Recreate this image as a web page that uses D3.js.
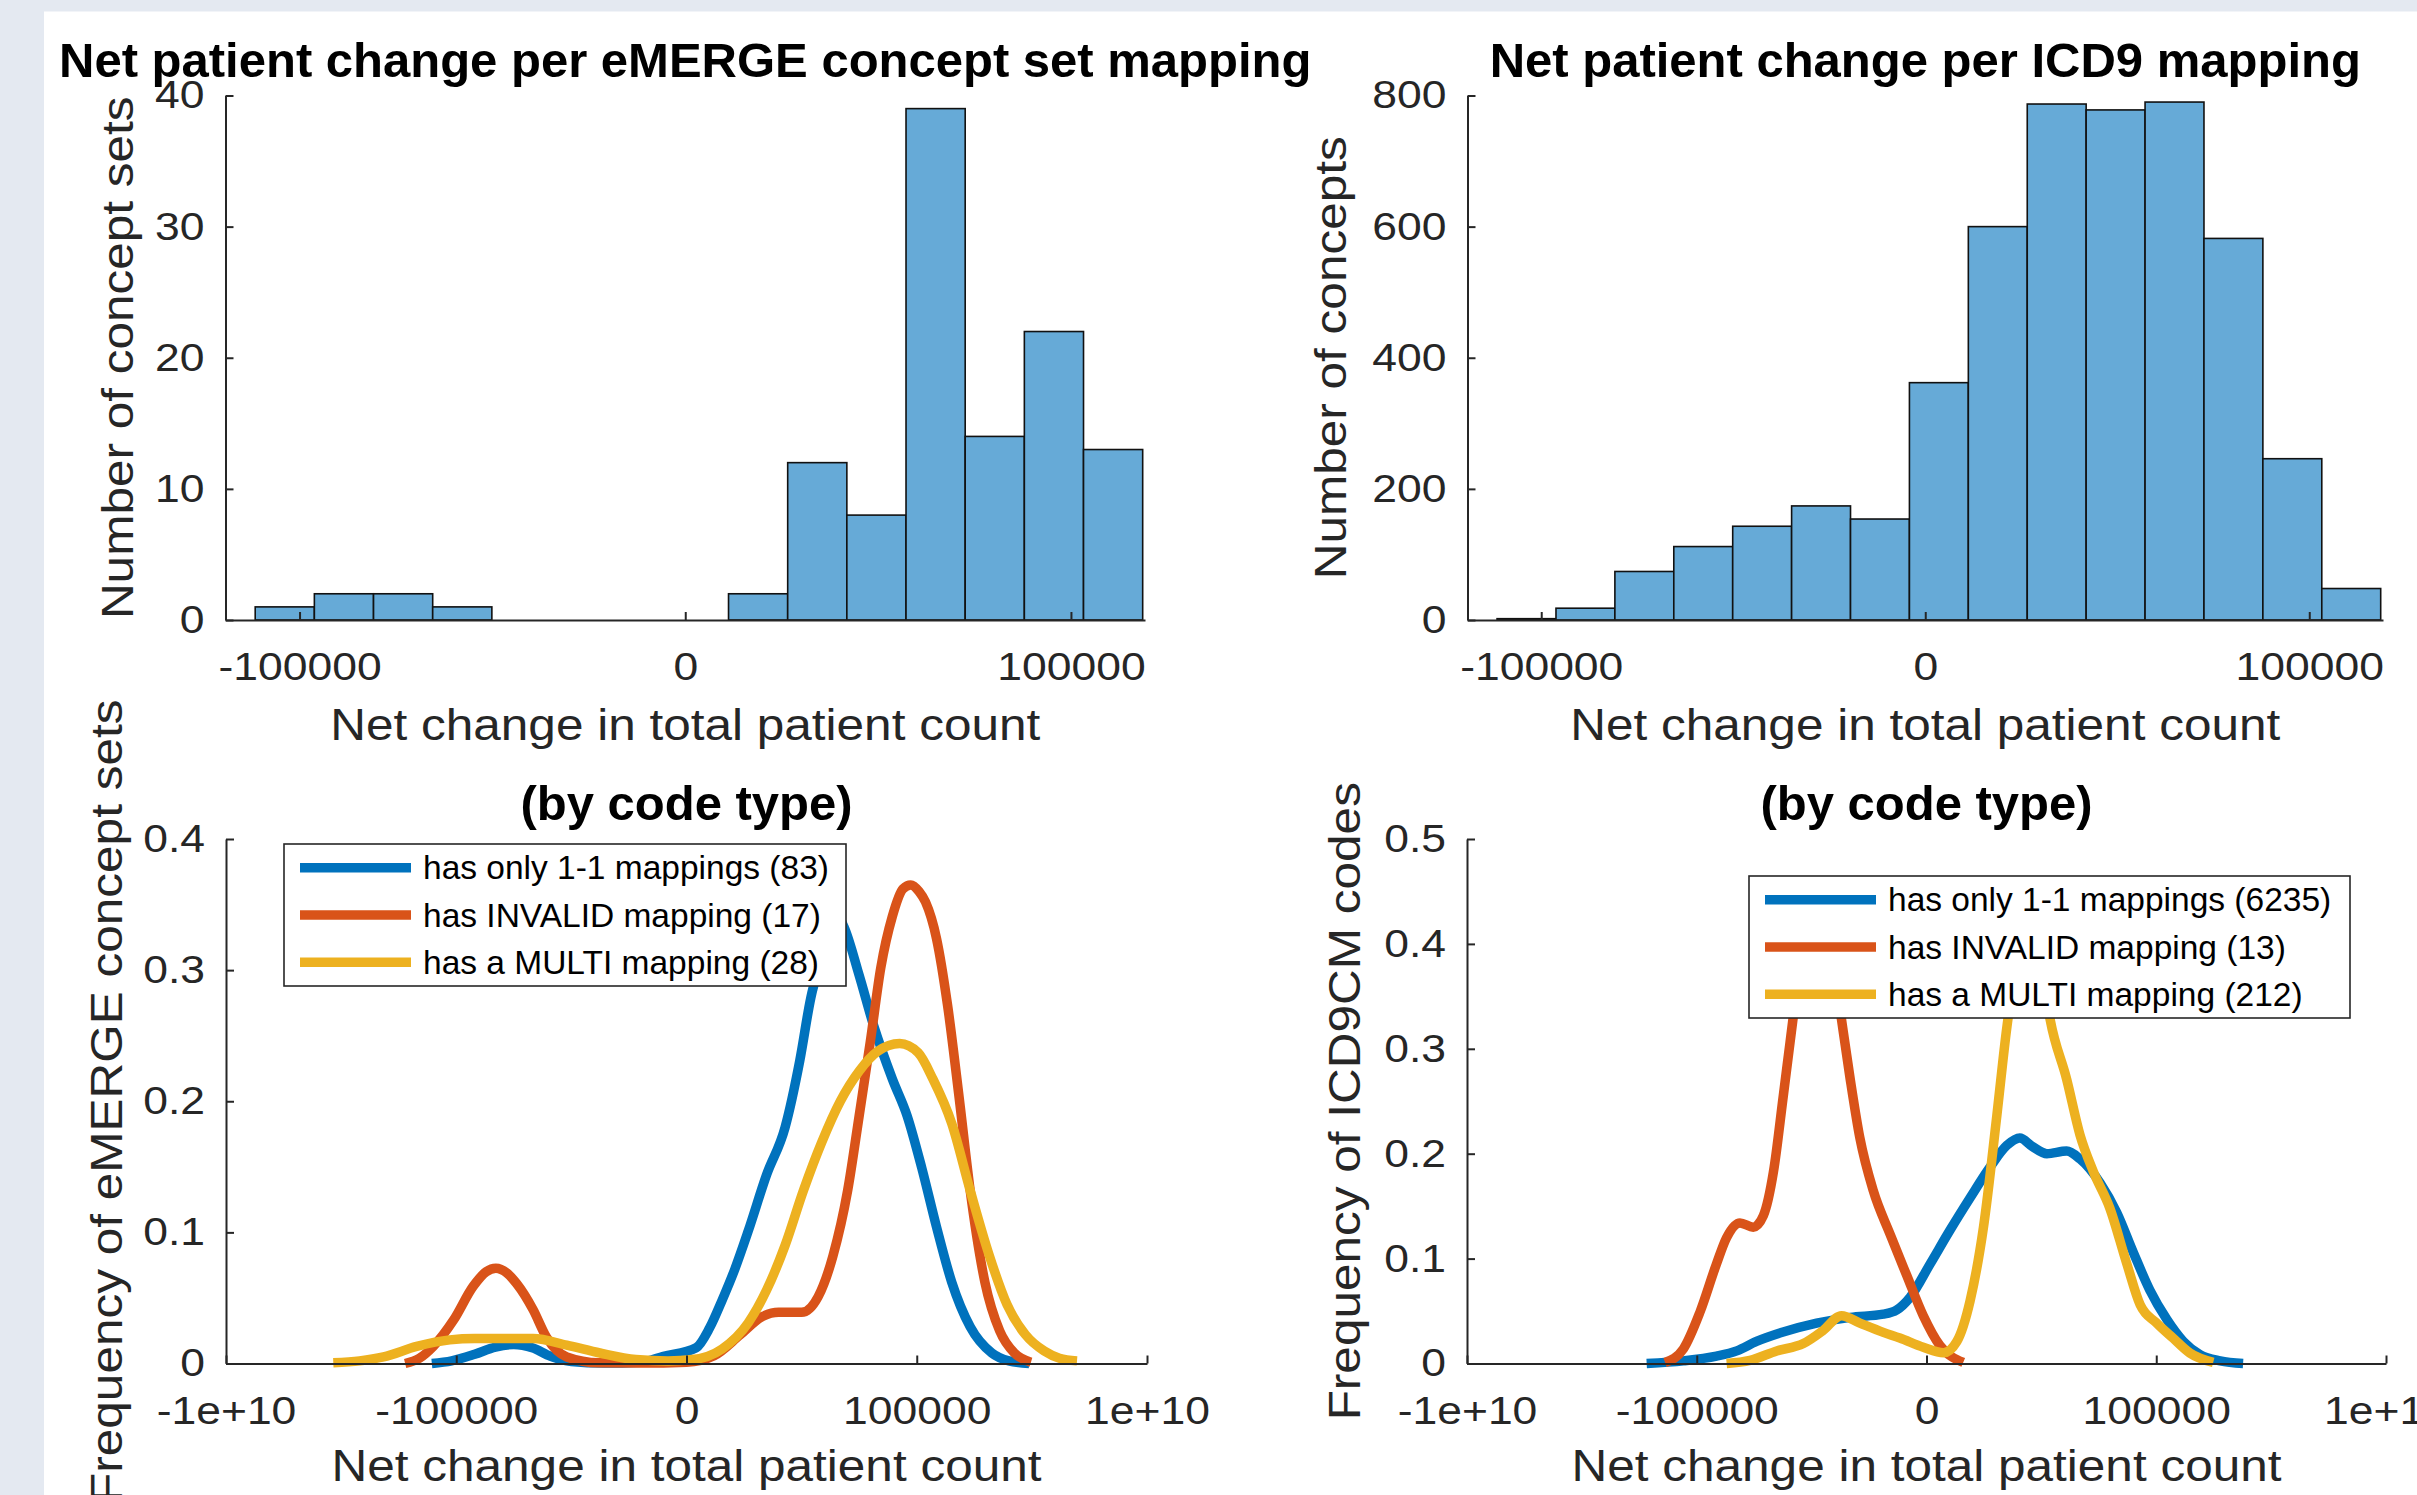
<!DOCTYPE html>
<html>
<head>
<meta charset="utf-8">
<script src="https://cdn.jsdelivr.net/npm/d3@7"></script>
<style>
  html, body { margin: 0; padding: 0; background: #e4e9f1; }
  svg { display: block; }
  text { font-family: "Liberation Sans", Arial, Helvetica, sans-serif; }
</style>
</head>
<body>
<svg id="fig" width="2417" height="1495"></svg>
<script>
// x values are signed log10 of the net change (so 5 -> 100000, 10 -> 1e+10)
const binEdges = [-5.575, -4.808, -4.041, -3.274, -2.507, -1.74, -0.973, -0.206,
  0.561, 1.328, 2.095, 2.862, 3.629, 4.396, 5.163, 5.93];
const emergeCounts = [1, 2, 2, 1, 0, 0, 0, 0, 2, 12, 8, 39, 14, 22, 13];
const icd9Counts = [2, 18, 74, 112, 143, 174, 154, 362, 600, 787, 778, 790, 582, 246, 48];

const histTickValues = [-5, 0, 5];
const histTickLabels = ['-100000', '0', '100000'];
const densTickValues = [-10, -5, 0, 5, 10];
const densTickLabels = ['-1e+10', '-100000', '0', '100000', '1e+10'];

const seriesNames = ['has only 1-1 mappings', 'has INVALID mapping', 'has a MULTI mapping'];
const emergeN = [83, 17, 28];
const icd9N = [6235, 13, 212];
const seriesColors = ['#0072BD', '#D95319', '#EDB120'];

// density curves, [x, frequency]
const emergeOneToOne = [[-5.53, 0], [-5.1, 0.002], [-4.6, 0.007], [-4.15, 0.0125], [-3.75, 0.0145],
  [-3.35, 0.012], [-2.95, 0.0055], [-2.5, 0.0015], [-1.8, 0.0003], [-1.0, 0.001], [-0.5, 0.0054],
  [0.21, 0.012], [0.5, 0.027], [0.77, 0.048], [1.05, 0.072], [1.34, 0.101], [1.74, 0.144],
  [2.14, 0.18], [2.46, 0.231], [2.7, 0.279], [2.94, 0.31], [3.2, 0.345], [3.42, 0.333],
  [3.75, 0.296], [4.07, 0.257], [4.47, 0.217], [4.79, 0.189], [5.11, 0.149], [5.43, 0.104],
  [5.76, 0.062], [6.16, 0.028], [6.63, 0.008], [7.0, 0.002], [7.44, 0]];
const emergeInvalid = [[-6.11, 0], [-5.8, 0.004], [-5.5, 0.013], [-5.06, 0.033], [-4.63, 0.059],
  [-4.35, 0.07], [-4.14, 0.0726], [-3.9, 0.069], [-3.69, 0.061], [-3.33, 0.041], [-3.04, 0.02],
  [-2.6, 0.005], [-1.9, 0.0005], [-1.0, 0.0003], [0, 0.001], [0.6, 0.006], [1.17, 0.022],
  [1.66, 0.036], [2.0, 0.039], [2.5, 0.039], [2.86, 0.051], [3.18, 0.082], [3.5, 0.132],
  [3.75, 0.189], [3.99, 0.245], [4.22, 0.302], [4.47, 0.341], [4.7, 0.362], [4.87, 0.365],
  [5.05, 0.36], [5.19, 0.352], [5.43, 0.324], [5.67, 0.273], [5.92, 0.203], [6.16, 0.132],
  [6.48, 0.062], [6.8, 0.025], [7.12, 0.008], [7.48, 0.001]];
const emergeMulti = [[-7.67, 0.0006], [-7.1, 0.002], [-6.58, 0.005], [-5.86, 0.013], [-5.14, 0.018],
  [-4.6, 0.019], [-4.05, 0.019], [-3.33, 0.019], [-2.6, 0.014], [-1.88, 0.008], [-1.1, 0.003],
  [-0.4, 0.002], [0.13, 0.003], [0.77, 0.011], [1.34, 0.031], [1.74, 0.056], [2.14, 0.09],
  [2.54, 0.132], [2.94, 0.169], [3.34, 0.2], [3.75, 0.223], [4.15, 0.238], [4.63, 0.244],
  [5.03, 0.237], [5.35, 0.217], [5.76, 0.183], [6.16, 0.132], [6.56, 0.084], [6.96, 0.045],
  [7.36, 0.022], [7.77, 0.0095], [8.1, 0.004], [8.48, 0.002]];

const icd9OneToOne = [[-6.09, 0], [-5.29, 0.0025], [-4.57, 0.007], [-4.13, 0.012], [-3.7, 0.021],
  [-3.12, 0.03], [-2.39, 0.0385], [-1.66, 0.044], [-0.94, 0.047], [-0.65, 0.051], [-0.36, 0.063],
  [0.08, 0.095], [0.51, 0.127], [0.95, 0.158], [1.38, 0.187], [1.75, 0.208], [2.03, 0.215],
  [2.3, 0.207], [2.62, 0.2], [3.05, 0.2025], [3.34, 0.195], [3.78, 0.172], [4.14, 0.144],
  [4.5, 0.106], [4.86, 0.07], [5.23, 0.042], [5.59, 0.021], [5.95, 0.0085], [6.39, 0.0025], [6.89, 0]];
const icd9Invalid = [[-5.69, 0.001], [-5.29, 0.014], [-4.93, 0.049], [-4.57, 0.095], [-4.35, 0.12],
  [-4.06, 0.134], [-3.77, 0.13], [-3.55, 0.141], [-3.33, 0.183], [-3.12, 0.254], [-2.97, 0.306],
  [-2.75, 0.38], [-2.4, 0.46], [-2.05, 0.39], [-1.85, 0.328], [-1.66, 0.271], [-1.45, 0.215],
  [-1.16, 0.165], [-0.79, 0.123], [-0.43, 0.084], [-0.07, 0.0456], [0.29, 0.0173], [0.8, 0.001]];
const icd9Multi = [[-4.35, 0], [-3.84, 0.003], [-3.26, 0.012], [-2.68, 0.019], [-2.25, 0.0315],
  [-1.85, 0.0456], [-1.45, 0.0385], [-0.94, 0.0297], [-0.58, 0.0243], [-0.07, 0.0155], [0.37, 0.0103],
  [0.66, 0.021], [0.95, 0.06], [1.24, 0.13], [1.53, 0.236], [1.75, 0.321], [2.0, 0.39], [2.25, 0.41],
  [2.5, 0.38], [2.69, 0.328], [3.05, 0.271], [3.34, 0.218], [3.63, 0.183], [3.99, 0.148],
  [4.36, 0.095], [4.65, 0.056], [5.01, 0.0385], [5.37, 0.024], [5.73, 0.01], [6.24, 0.001]];

const AXIS_COLOR = '#262626';
const TICK_FONT = 39;
const TICK_STRETCH = 1.14;
const LABEL_FONT = 45;
const LABEL_STRETCH = 1.1;
const TITLE_FONT = 49;
const LEGEND_FONT = 33.5;

const svg = d3.select('#fig');

// the original glyphs are a bit wider than Liberation Sans: widen along the baseline
function stretch(sel, s) {
  sel.each(function () {
    const len = this.getComputedTextLength();
    d3.select(this)
      .attr('textLength', len * s)
      .attr('lengthAdjust', 'spacingAndGlyphs');
  });
}

// white figure area (the screenshot shows a strip of the window round it)
svg.append('rect')
  .attr('x', 44).attr('y', 11.5)
  .attr('width', 2417 - 44).attr('height', 1495 - 11.5)
  .attr('fill', '#ffffff');

// draws one MATLAB-like axes: ticks pointing inward, no box
function drawAxes(box, x, y, xTicks, xLabels, yTicks, yFormat, opts) {
  const g = svg.append('g');

  const xAxis = d3.axisBottom(x)
    .tickValues(xTicks)
    .tickFormat((d, i) => xLabels[i])
    .tickSizeInner(-8)
    .tickSizeOuter(0)
    .tickPadding(60 - 0.71 * TICK_FONT);
  const gx = g.append('g')
    .attr('transform', 'translate(0,' + box.bottom + ')')
    .call(xAxis);

  const yAxis = d3.axisLeft(y)
    .tickValues(yTicks)
    .tickFormat(yFormat)
    .tickSizeInner(-8)
    .tickSizeOuter(0)
    .tickPadding(21);
  const gy = g.append('g')
    .attr('transform', 'translate(' + box.left + ',0)')
    .call(yAxis);

  [gx, gy].forEach(function (a) {
    a.select('.domain').attr('stroke', AXIS_COLOR).attr('stroke-width', 2);
    a.selectAll('.tick line').attr('stroke', AXIS_COLOR).attr('stroke-width', 2);
    a.selectAll('.tick text')
      .attr('fill', AXIS_COLOR)
      .style('font-size', TICK_FONT + 'px')
      .style('font-family', '"Liberation Sans", Arial, sans-serif')
      .call(stretch, TICK_STRETCH);
  });

  const cx = (box.left + box.right) / 2;
  const cy = (box.top + box.bottom) / 2;

  g.append('text')
    .attr('x', cx).attr('y', box.top - 19)
    .attr('text-anchor', 'middle')
    .attr('fill', '#000')
    .style('font-size', TITLE_FONT + 'px')
    .style('font-weight', 'bold')
    .text(opts.title);

  g.append('text')
    .attr('x', cx).attr('y', opts.xLabelY)
    .attr('text-anchor', 'middle')
    .attr('fill', AXIS_COLOR)
    .style('font-size', LABEL_FONT + 'px')
    .text('Net change in total patient count')
    .call(stretch, LABEL_STRETCH);

  g.append('text')
    .attr('transform', 'translate(' + opts.yLabelX + ',' + cy + ') rotate(-90)')
    .attr('text-anchor', 'middle')
    .attr('fill', AXIS_COLOR)
    .style('font-size', LABEL_FONT + 'px')
    .text(opts.yLabel)
    .call(stretch, LABEL_STRETCH);
}

function drawHistogram(box, counts, yMax, yTicks, opts) {
  const x = d3.scaleLinear().domain([-5.96, 5.96]).range([box.left, box.right]);
  const y = d3.scaleLinear().domain([0, yMax]).range([box.bottom, box.top]);

  const bins = counts.map((c, i) => ({x0: binEdges[i], x1: binEdges[i + 1], count: c}));

  svg.append('g').selectAll('rect')
    .data(bins.filter(d => d.count > 0))
    .enter().append('rect')
    .attr('x', d => x(d.x0))
    .attr('y', d => y(d.count))
    .attr('width', d => x(d.x1) - x(d.x0))
    .attr('height', d => y(0) - y(d.count))
    .attr('fill', '#66AAD7')
    .attr('stroke', '#111')
    .attr('stroke-width', 1.6);

  drawAxes(box, x, y, histTickValues, histTickLabels, yTicks, d3.format('d'), opts);
}

function drawDensity(box, curves, counts, yMax, yTicks, legendBox, opts) {
  const x = d3.scaleLinear().domain([-10, 10]).range([box.left, box.right]);
  const y = d3.scaleLinear().domain([0, yMax]).range([box.bottom, box.top]);

  const line = d3.line()
    .x(d => x(d[0]))
    .y(d => y(d[1]))
    .curve(d3.curveMonotoneX);

  svg.append('g').selectAll('path')
    .data(curves)
    .enter().append('path')
    .attr('d', line)
    .attr('fill', 'none')
    .attr('stroke', (d, i) => seriesColors[i])
    .attr('stroke-width', 9.5)
    .attr('stroke-linejoin', 'round')
    .attr('stroke-linecap', 'butt');

  drawAxes(box, x, y, densTickValues, densTickLabels, yTicks, d3.format('.1~f'), opts);

  // legend
  const lg = svg.append('g');
  lg.append('rect')
    .attr('x', legendBox.x).attr('y', legendBox.y)
    .attr('width', legendBox.w).attr('height', legendBox.h)
    .attr('fill', '#fff')
    .attr('stroke', AXIS_COLOR)
    .attr('stroke-width', 1.6);
  const rowGap = legendBox.h / 3;
  seriesNames.forEach(function (name, i) {
    const ry = legendBox.y + rowGap * (i + 0.5);
    lg.append('line')
      .attr('x1', legendBox.x + 16).attr('x2', legendBox.x + 127)
      .attr('y1', ry).attr('y2', ry)
      .attr('stroke', seriesColors[i])
      .attr('stroke-width', 9.5);
    lg.append('text')
      .attr('x', legendBox.x + 139).attr('y', ry)
      .attr('dy', '0.35em')
      .attr('fill', '#000')
      .style('font-size', LEGEND_FONT + 'px')
      .text(name + ' (' + counts[i] + ')');
  });
}

drawHistogram({left: 225.5, right: 1145, top: 95.5, bottom: 620}, emergeCounts, 40, [0, 10, 20, 30, 40], {
  title: 'Net patient change per eMERGE concept set mapping',
  yLabel: 'Number of concept sets', yLabelX: 133, xLabelY: 740
});

drawHistogram({left: 1467.5, right: 2383, top: 95.5, bottom: 620}, icd9Counts, 800, [0, 200, 400, 600, 800], {
  title: 'Net patient change per ICD9 mapping',
  yLabel: 'Number of concepts', yLabelX: 1346, xLabelY: 740
});

drawDensity({left: 226, right: 1147, top: 839, bottom: 1363.5},
  [emergeOneToOne, emergeInvalid, emergeMulti], emergeN, 0.4, [0, 0.1, 0.2, 0.3, 0.4],
  {x: 284, y: 844, w: 562, h: 142}, {
    title: '(by code type)',
    yLabel: 'Frequency of eMERGE concept sets', yLabelX: 122, xLabelY: 1481
  });

drawDensity({left: 1467, right: 2386, top: 839, bottom: 1363.5},
  [icd9OneToOne, icd9Invalid, icd9Multi], icd9N, 0.5, [0, 0.1, 0.2, 0.3, 0.4, 0.5],
  {x: 1749, y: 876, w: 601, h: 142}, {
    title: '(by code type)',
    yLabel: 'Frequency of ICD9CM codes', yLabelX: 1360, xLabelY: 1481
  });
</script>
</body>
</html>
